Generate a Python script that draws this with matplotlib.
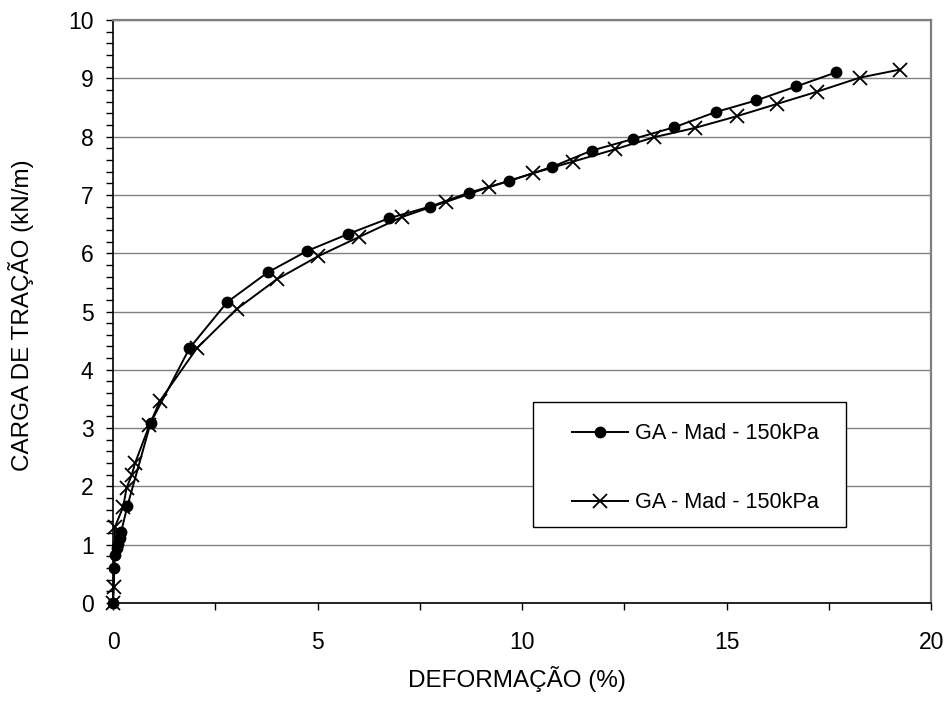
import matplotlib
matplotlib.use("Agg")
import matplotlib.pyplot as plt
from matplotlib.patches import Rectangle
from matplotlib.ticker import MultipleLocator

FONT = ["Liberation Sans", "DejaVu Sans"]

# GA - Mad - 150kPa (circles)
circ_x = [0, 0.02, 0.05, 0.09, 0.13, 0.17, 0.20, 0.35, 0.92, 1.87, 2.79, 3.78, 4.75, 5.75,
          6.75, 7.75, 8.71, 9.69, 10.73, 11.70, 12.72, 13.72, 14.73, 15.72, 16.70, 17.67]
circ_y = [0, 0.60, 0.82, 0.94, 1.02, 1.11, 1.22, 1.66, 3.09, 4.37, 5.16, 5.67, 6.04, 6.33,
          6.60, 6.80, 7.04, 7.24, 7.48, 7.76, 7.96, 8.16, 8.42, 8.62, 8.86, 9.10]

# GA - Mad - 150kPa (crosses)
cross_x = [0, 0.02, 0.05, 0.25, 0.33, 0.46, 0.54, 0.89, 1.15, 2.05, 3.02, 4.00, 5.02, 6.02,
           7.06, 8.14, 9.18, 10.26, 11.24, 12.26, 13.23, 14.23, 15.25, 16.23, 17.21, 18.25, 19.24]
cross_y = [0, 0.28, 1.31, 1.65, 1.97, 2.20, 2.40, 3.05, 3.47, 4.37, 5.04, 5.55, 5.95, 6.28,
           6.62, 6.88, 7.13, 7.37, 7.57, 7.78, 7.99, 8.15, 8.35, 8.56, 8.77, 9.01, 9.15]

labels = ["GA - Mad - 150kPa", "GA - Mad - 150kPa"]

fig = plt.figure(figsize=(9.48, 7.2), dpi=100)
ax = fig.add_axes([0.1192, 0.1625, 0.8630, 0.8097])

ax.plot(circ_x, circ_y, color="black", linewidth=1.4, marker="o", markersize=7.5,
        clip_on=False, zorder=4, label=labels[0])
ax.plot(cross_x, cross_y, color="black", linewidth=1.4, marker="x", markersize=10,
        markeredgewidth=1.3, clip_on=False, zorder=3, label=labels[1])

ax.set_xlim(0, 20)
ax.set_ylim(0, 10)
ax.xaxis.set_major_locator(MultipleLocator(5))
ax.xaxis.set_minor_locator(MultipleLocator(2.5))
ax.yaxis.set_major_locator(MultipleLocator(1))
ax.yaxis.set_minor_locator(MultipleLocator(0.2))

ax.grid(True, axis="y", which="major", color="#808080", linewidth=1.0)
ax.set_axisbelow(True)

for side in ["top", "right"]:
    ax.spines[side].set_color("#808080")
    ax.spines[side].set_linewidth(1.6)
for side in ["left", "bottom"]:
    ax.spines[side].set_color("black")
    ax.spines[side].set_linewidth(1.2)

ax.tick_params(axis="both", which="both", direction="out", length=5, width=1.0,
               color="black", top=False, right=False)
ax.tick_params(axis="y", which="major", pad=9)
ax.tick_params(axis="x", which="major", pad=15)

for lbl in ax.get_xticklabels() + ax.get_yticklabels():
    lbl.set_family(FONT)
    lbl.set_fontsize(16.5)

ax.set_xlabel("DEFORMAÇÃO (%)", family=FONT, fontsize=17.5)
ax.set_ylabel("CARGA DE TRAÇÃO (kN/m)", family=FONT, fontsize=17.5)
ax.xaxis.set_label_coords(0.494, -0.108)
ax.yaxis.set_label_coords(-0.097, 0.494)

box = Rectangle((0.513, 0.130), 0.383, 0.215, transform=ax.transAxes,
                facecolor="white", edgecolor="black", linewidth=1.0, zorder=5)
ax.add_patch(box)

leg = ax.legend(loc="upper left", bbox_to_anchor=(0.561, 0.308), frameon=False,
                borderpad=0, borderaxespad=0, handlelength=2.6, handletextpad=0.3,
                labelspacing=2.2, prop={"family": FONT, "size": 15.6})
leg.set_zorder(6)

fig.savefig("out.png", dpi=100)
